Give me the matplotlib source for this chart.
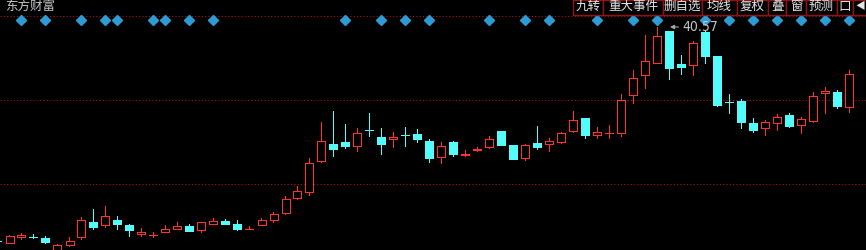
import matplotlib
matplotlib.use("Agg")
import matplotlib.pyplot as plt
from matplotlib.patches import Rectangle

plt.rcParams['font.family'] = ['Noto Sans CJK SC', 'DejaVu Sans']

# daily K-line data (price)
opens = [13.82, 13.61, 14.32, 14.35, 14.20, 12.45, 13.36, 14.36, 16.20, 15.86,
         16.45, 15.82, 14.73, 14.51, 14.98, 15.28, 15.70, 15.23, 15.98, 16.32,
         15.95, 15.26, 15.86, 16.45, 17.32, 19.20, 19.95, 23.86, 25.95, 26.20,
         25.73, 27.72, 26.82, 26.61, 27.10, 27.20, 26.32, 24.36, 26.20, 24.61,
         25.23, 25.61, 27.57, 25.82, 24.23, 26.07, 25.98, 26.23, 27.61, 29.20,
         27.11, 27.32, 27.36, 32.11, 34.61, 36.11, 40.07, 35.95, 35.86, 39.95,
         36.95, 31.22, 31.32, 28.57, 27.98, 28.61, 29.57, 28.36, 28.86, 32.36,
         32.45, 30.61]
highs = [13.95, 14.57, 14.82, 14.70, 14.45, 13.45, 14.32, 16.82, 17.82, 18.20,
         16.95, 15.95, 15.45, 14.95, 15.82, 16.20, 15.95, 16.20, 16.70, 16.57,
         16.45, 15.70, 16.70, 17.45, 19.45, 20.70, 24.20, 28.70, 30.07, 28.45,
         27.95, 29.82, 27.95, 27.45, 28.07, 27.82, 26.57, 26.20, 26.32, 25.20,
         25.57, 26.95, 27.57, 25.82, 25.95, 28.20, 26.70, 27.45, 30.07, 29.20,
         28.07, 28.32, 32.20, 35.20, 39.57, 40.57, 40.07, 37.07, 38.82, 40.07,
         36.95, 32.20, 31.57, 29.20, 28.98, 29.70, 29.82, 29.32, 32.45, 33.07,
         32.70, 35.20]
lows = [13.70, 13.61, 14.11, 14.23, 13.61, 12.32, 13.20, 14.07, 15.36, 15.61,
        15.36, 14.48, 14.48, 14.36, 14.98, 15.28, 15.11, 14.98, 15.98, 15.98,
        15.20, 15.26, 15.86, 16.20, 17.20, 19.07, 19.57, 23.73, 24.48, 25.48,
        25.11, 26.98, 24.73, 25.61, 25.73, 26.23, 23.73, 23.61, 24.48, 24.48,
        25.07, 25.48, 25.86, 24.11, 23.98, 25.36, 25.11, 26.11, 27.48, 26.73,
        26.73, 26.73, 26.98, 31.11, 32.98, 36.11, 34.11, 34.73, 34.61, 36.11,
        30.73, 29.86, 27.98, 27.48, 27.11, 27.73, 28.11, 27.36, 28.73, 29.86,
        30.45, 29.98]
closes = [13.78, 14.45, 14.57, 14.29, 13.73, 13.32, 13.78, 16.45, 15.57, 16.95,
          15.95, 15.23, 14.95, 14.57, 15.32, 15.70, 15.11, 16.20, 16.32, 15.98,
          15.32, 15.32, 16.45, 17.20, 19.07, 20.07, 23.57, 26.32, 25.36, 25.73,
          27.32, 27.67, 25.98, 26.82, 27.04, 26.61, 24.23, 25.70, 24.73, 24.70,
          25.32, 26.57, 25.86, 24.11, 25.82, 25.61, 26.32, 27.32, 28.95, 27.11,
          27.45, 27.38, 31.45, 34.20, 36.32, 39.45, 35.48, 35.61, 38.57, 36.98,
          30.86, 31.17, 28.73, 27.73, 28.70, 29.32, 28.23, 29.07, 31.95, 32.61,
          30.70, 34.70]
signal_idx = [2, 4, 7, 9, 10, 13, 14, 16, 18, 29, 32, 34, 36, 41, 44, 46,
              50, 53, 55, 59, 61, 63, 65, 67, 69, 71]
grid_levels = [20.95, 31.45, 41.95]
brand = "东方财富"
toolbar_labels = ["九转", "重大事件", "删自选", "均线", "复权", "叠", "窗", "预测", "口", "◀"]
toolbar_edges = [573, 603, 663, 702, 737, 768, 786, 806, 837, 853, 867]

UP = '#ff3232'
DOWN = '#54fcfc'
PX = 1.0 / 12  # one pixel in x data units

fig = plt.figure(figsize=(8.66, 2.5), dpi=100, facecolor='black')
ax = fig.add_axes([0, 0, 1, 1], facecolor='black')
ax.set_xlim(2.5 / 12, 868.5 / 12)
ax.set_ylim(12.695, 43.945)
ax.axis('off')

for lv in grid_levels:
    ax.axhline(lv, color='#a01010', lw=0.72, linestyle=(0, (1.2, 2.1)), zorder=1)

# candles
for i, (o, h, l, c) in enumerate(zip(opens, highs, lows, closes)):
    col = UP if c >= o else DOWN
    ax.vlines(i, l, h, color=col, lw=0.72, zorder=2, antialiased=False)
    bottom = min(o, c)
    height = max(abs(c - o), 0.01)
    ax.add_patch(Rectangle((i - 4 * PX, bottom), 8 * PX, height,
                           facecolor='black' if c >= o else col,
                           edgecolor=col, lw=0.72, zorder=3, antialiased=False))

# signal diamonds along the top
ax.plot(signal_idx, [0.922] * len(signal_idx), 'D', color='#2d9cd5',
        markersize=5.5, transform=ax.get_xaxis_transform(), zorder=4, clip_on=False)

# highest price marker
imax = highs.index(max(highs))
ax.annotate(f"{max(highs):.2f}", xy=(imax, max(highs)), xytext=(25, 0),
            textcoords='offset pixels', ha='left', va='center',
            color='#c4c4c4', fontsize=10, family=['DejaVu Sans'], fontstretch='condensed',
            arrowprops=dict(arrowstyle='-|>', color='#a8a8a8', lw=0.8,
                            shrinkA=1, shrinkB=9, mutation_scale=6),
            zorder=5)

# overlay in pixel coordinates for header/toolbar
ov = fig.add_axes([0, 0, 1, 1], facecolor='none')
ov.set_xlim(0, 866)
ov.set_ylim(250, 0)
ov.axis('off')

ov.text(5, 6, brand, color='#c8c8c8', fontsize=9, va='center', ha='left')

for lab, x0, x1 in zip(toolbar_labels, toolbar_edges[:-1], toolbar_edges[1:]):
    ov.add_patch(Rectangle((x0, 0), x1 - x0, 14.5, facecolor='black',
                           edgecolor='#8b1414', lw=1, zorder=5))
    size = 7 if lab == "◀" else 9
    ov.text((x0 + x1) / 2, 6.5, lab, color='#e6e6e6', fontsize=size,
            ha='center', va='center', zorder=6)

fig.savefig('out.png', dpi=100, facecolor='black')
